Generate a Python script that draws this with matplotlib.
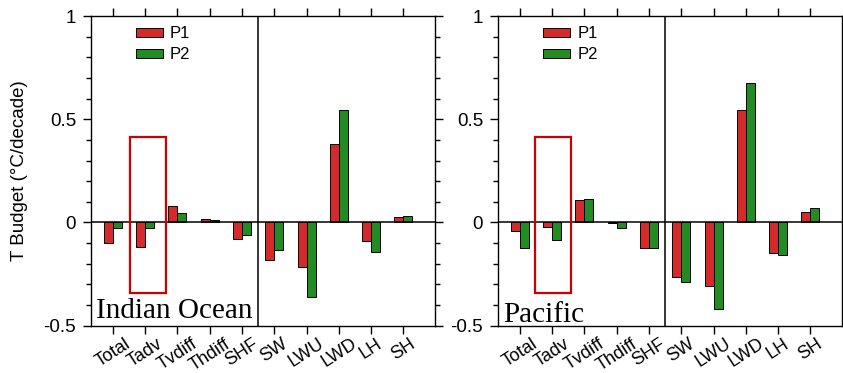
import numpy as np
import matplotlib
matplotlib.use("Agg")
from matplotlib import pyplot as plt
from matplotlib.ticker import MultipleLocator
from matplotlib.patches import Patch, Rectangle

plt.rcParams['font.family'] = ['Liberation Sans', 'DejaVu Sans']
plt.rcParams['axes.unicode_minus'] = False

terms = ["Total", "Tadv", "Tvdiff", "Thdiff", "SHF", "SW", "LWU", "LWD", "LH", "SH"]

# Indian Ocean
io_p1 = [-0.100, -0.117, 0.078, 0.016, -0.081, -0.183, -0.215, 0.379, -0.091, 0.026]
io_p2 = [-0.028, -0.027, 0.045, 0.011, -0.060, -0.133, -0.362, 0.545, -0.141, 0.031]

# Pacific
pa_p1 = [-0.042, -0.024, 0.108, -0.002, -0.125, -0.264, -0.307, 0.545, -0.149, 0.052]
pa_p2 = [-0.126, -0.083, 0.112, -0.029, -0.125, -0.290, -0.421, 0.675, -0.159, 0.068]

yticks = [-0.5, 0, 0.5, 1]
ytick_labels = ["-0.5", "0", "0.5", "1"]

red = '#d42a2a'
green = '#228b22'
box_red = '#cc0000'


def panel(ax, p1, p2, name, box_x, name_y, leg_x):
    x = np.arange(len(terms))
    w = 0.28
    ax.bar(x - w / 2, p1, w, color=red, edgecolor='black', linewidth=0.7, zorder=3)
    ax.bar(x + w / 2, p2, w, color=green, edgecolor='black', linewidth=0.7, zorder=3)
    ax.axhline(0, color='black', lw=1.1, zorder=4)
    ax.axvline(4.5, color='black', lw=1.1, zorder=4)
    ax.set_xlim(-0.67, 9.98)
    ax.set_ylim(-0.5, 1)
    ax.set_xticks(x)
    ax.set_xticklabels(terms, rotation=33, ha='center', fontsize=13)
    ax.set_yticks(yticks)
    ax.set_yticklabels(ytick_labels, fontsize=13.5)
    ax.yaxis.set_minor_locator(MultipleLocator(0.1))
    ax.tick_params(axis='both', which='major', direction='out', length=6,
                   width=1.0, top=True, right=True, pad=5)
    ax.tick_params(axis='x', pad=1)
    ax.tick_params(axis='y', which='minor', direction='out', length=3.5,
                   width=1.0, right=True)
    for s in ax.spines.values():
        s.set_linewidth(1.0)
    # highlight box around Tadv
    ax.add_patch(Rectangle((box_x, -0.34), 1.11, 0.755, fill=False,
                           edgecolor=box_red, lw=1.6, zorder=5))
    ax.text(0.015, name_y, name, transform=ax.transAxes, fontsize=21,
            family='Liberation Serif', va='baseline', ha='left', zorder=6)
    handles = [Patch(facecolor=red, edgecolor='black', linewidth=0.7, label='P1'),
               Patch(facecolor=green, edgecolor='black', linewidth=0.7, label='P2')]
    ax.legend(handles=handles, loc='upper left', bbox_to_anchor=(leg_x, 1.015),
              frameon=False, fontsize=12, handlelength=1.62, handleheight=0.48,
              handletextpad=0.45, labelspacing=0.35)


fig = plt.figure(figsize=(8.43, 3.73), dpi=100)
ax1 = fig.add_axes([0.1083, 0.1268, 0.4077, 0.8303])
ax2 = fig.add_axes([0.5911, 0.1268, 0.4077, 0.8303])

panel(ax1, io_p1, io_p2, "Indian Ocean", 0.53, 0.025, 0.085)
panel(ax2, pa_p1, pa_p2, "Pacific", 0.46, 0.013, 0.087)

ax1.set_ylabel("T Budget (°C/decade)", fontsize=13.5, labelpad=11)

fig.savefig("out.png", dpi=100)
